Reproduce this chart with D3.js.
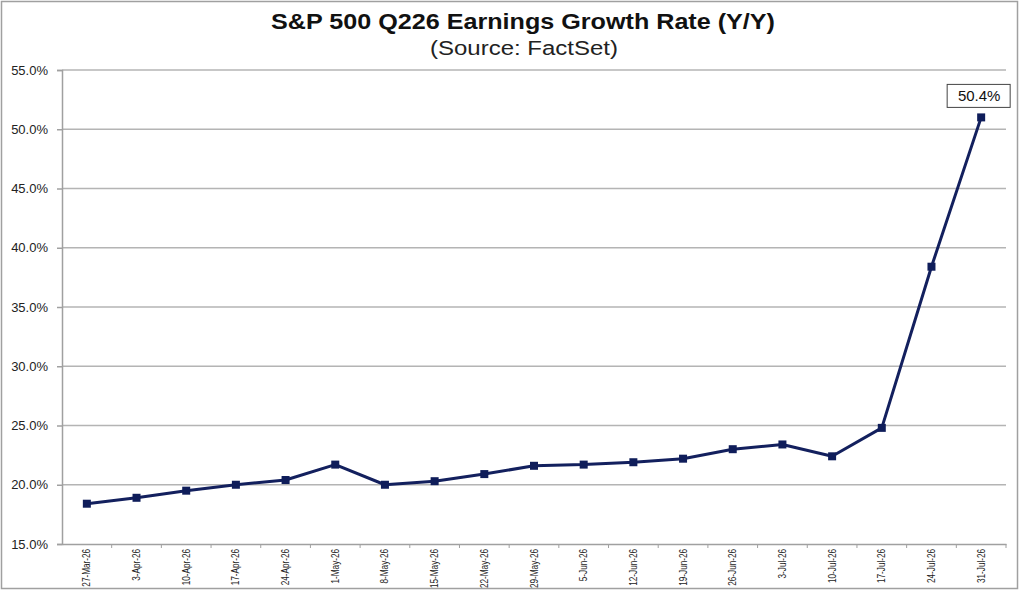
<!DOCTYPE html>
<html>
<head>
<meta charset="utf-8">
<script src="https://cdn.jsdelivr.net/npm/d3@7/dist/d3.min.js"></script>
<style>
  body { margin: 0; background: #fff; }
  svg { display: block; font-family: "Liberation Sans", Arial, sans-serif; }
</style>
</head>
<body>
<div id="chart"></div>
<script>
const dates = ["27-Mar-26", "3-Apr-26", "10-Apr-26", "17-Apr-26", "24-Apr-26", "1-May-26",
  "8-May-26", "15-May-26", "22-May-26", "29-May-26", "5-Jun-26", "12-Jun-26", "19-Jun-26",
  "26-Jun-26", "3-Jul-26", "10-Jul-26", "17-Jul-26", "24-Jul-26", "31-Jul-26"];
const growth = [18.4, 18.9, 19.5, 20.0, 20.4, 21.7, 20.0, 20.3, 20.9, 21.6, 21.7, 21.9, 22.2,
  23.0, 23.4, 22.4, 24.8, 38.4, 51.0];
const yTicks = [15, 20, 25, 30, 35, 40, 45, 50, 55];
const lastLabel = "50.4%";

const width = 1024, height = 591;
const margin = { top: 70, right: 18, bottom: 47, left: 62 };

const svg = d3.select("#chart").append("svg")
  .attr("width", width)
  .attr("height", height);

// outer frame
svg.append("rect")
  .attr("x", 1.5).attr("y", 1.5)
  .attr("width", 1016).attr("height", 587)
  .attr("fill", "none")
  .attr("stroke", "#a0a0a0")
  .attr("stroke-width", 1.5);

svg.append("text")
  .attr("x", 271).attr("y", 29)
  .attr("textLength", 504)
  .attr("lengthAdjust", "spacingAndGlyphs")
  .attr("font-size", 22)
  .attr("font-weight", "bold")
  .attr("fill", "#111")
  .text("S&P 500 Q226 Earnings Growth Rate (Y/Y)");

svg.append("text")
  .attr("x", 430).attr("y", 55)
  .attr("textLength", 188)
  .attr("lengthAdjust", "spacingAndGlyphs")
  .attr("font-size", 20)
  .attr("fill", "#222")
  .text("(Source: FactSet)");

const x = d3.scaleBand()
  .domain(dates)
  .range([margin.left, width - margin.right]);

const y = d3.scaleLinear()
  .domain([15, 55])
  .range([height - margin.bottom, margin.top]);

// gridlines
svg.append("g")
  .selectAll("line")
  .data(yTicks.slice(1))
  .join("line")
  .attr("x1", margin.left).attr("x2", x.range()[1])
  .attr("y1", d => y(d)).attr("y2", d => y(d))
  .attr("stroke", "#b4b4b4")
  .attr("stroke-width", 1.5);

// y axis
const yAxis = svg.append("g")
  .attr("transform", `translate(${margin.left},0)`)
  .call(d3.axisLeft(y).tickValues(yTicks).tickSize(5).tickPadding(9)
    .tickFormat(d => d.toFixed(1) + "%"));
yAxis.select(".domain").attr("stroke", "#a0a0a0").attr("stroke-width", 1.5);
yAxis.selectAll(".tick line").attr("stroke", "#a0a0a0").attr("stroke-width", 1.5);
yAxis.selectAll(".tick text")
  .attr("font-size", 13)
  .attr("font-family", "Liberation Sans, Arial, sans-serif")
  .attr("fill", "#222");

// x axis
const xAxis = svg.append("g")
  .attr("transform", `translate(0,${y(15)})`)
  .call(d3.axisBottom(x).tickSize(0).tickPadding(0));
xAxis.select(".domain").attr("stroke", "#a0a0a0").attr("stroke-width", 1.5);
xAxis.selectAll(".tick text")
  .attr("font-size", 10)
  .attr("font-family", "Liberation Sans, Arial, sans-serif")
  .attr("fill", "#222")
  .attr("text-anchor", "end")
  .attr("transform", "rotate(-90) scale(0.82,1)")
  .attr("x", -6)
  .attr("y", 0)
  .attr("dy", "0.35em");

// category boundary ticks
svg.append("g")
  .selectAll("line")
  .data(dates)
  .join("line")
  .attr("x1", d => x(d) + x.step())
  .attr("x2", d => x(d) + x.step())
  .attr("y1", y(15)).attr("y2", y(15) + 4)
  .attr("stroke", "#a0a0a0")
  .attr("stroke-width", 1);

const cx = d => x(d) + x.bandwidth() / 2;
const data = dates.map((d, i) => ({ date: d, value: growth[i] }));

svg.append("path")
  .datum(data)
  .attr("fill", "none")
  .attr("stroke", "#13205e")
  .attr("stroke-width", 3)
  .attr("stroke-linejoin", "round")
  .attr("d", d3.line().x(d => cx(d.date)).y(d => y(d.value)));

svg.append("g")
  .selectAll("rect")
  .data(data)
  .join("rect")
  .attr("x", d => cx(d.date) - 4)
  .attr("y", d => y(d.value) - 4)
  .attr("width", 8).attr("height", 8)
  .attr("fill", "#0f1d5a");

// label for last point
const last = data[data.length - 1];
const lg = svg.append("g")
  .attr("transform", `translate(${cx(last.date) - 2},${y(last.value) - 22})`);
lg.append("rect")
  .attr("x", -32).attr("y", -11)
  .attr("width", 63).attr("height", 23)
  .attr("fill", "#fff")
  .attr("stroke", "#444")
  .attr("stroke-width", 1);
lg.append("text")
  .attr("text-anchor", "middle")
  .attr("dy", "0.36em")
  .attr("font-size", 15)
  .attr("fill", "#111")
  .text(lastLabel);
</script>
</body>
</html>
